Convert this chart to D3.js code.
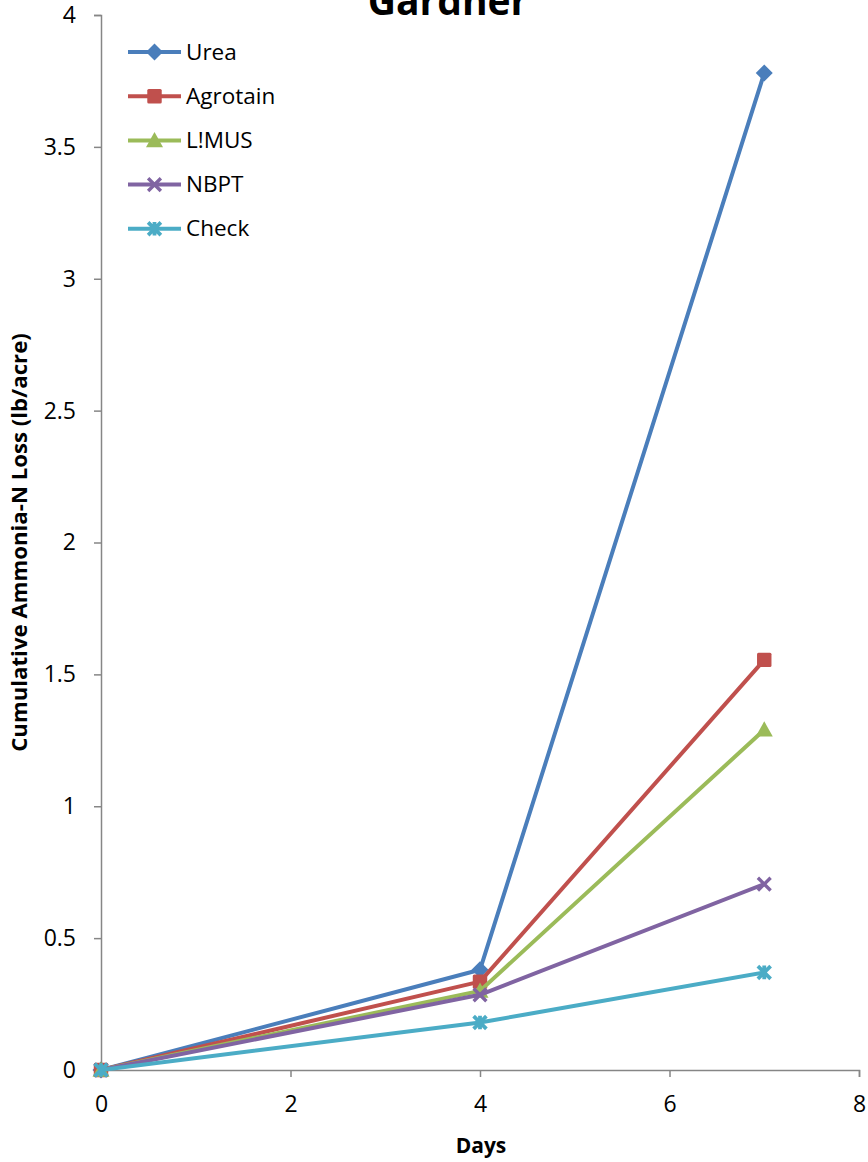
<!DOCTYPE html>
<html>
<head>
<meta charset="utf-8">
<script src="https://cdnjs.cloudflare.com/ajax/libs/d3/7.8.5/d3.min.js"></script>
<style>
  body { margin: 0; background: #fff; }
  svg { display: block; font-family: "Open Sans", sans-serif; }
</style>
</head>
<body>
<div id="chart"></div>
<script>
// data
var days = [0, 4, 7];
var seriesNames = ["Urea", "Agrotain", "L!MUS", "NBPT", "Check"];
var urea = [0, 0.38, 3.78];
var agrotain = [0, 0.335, 1.555];
var limus = [0, 0.30, 1.29];
var nbpt = [0, 0.285, 0.705];
var check = [0, 0.18, 0.37];
var xTicks = [0, 2, 4, 6, 8];
var yTicks = [0, 0.5, 1, 1.5, 2, 2.5, 3, 3.5, 4];

var colors = ["#4a7ebb", "#c0504d", "#9bbb59", "#8064a2", "#4bacc6"];
var shapes = ["diamond", "square", "triangle", "x", "star"];
var allValues = [urea, agrotain, limus, nbpt, check];

var W = 868, H = 1162;
var margin = {top: 15, right: 9, bottom: 92, left: 101};
var width = W - margin.left - margin.right,
    height = H - margin.top - margin.bottom;

var svg = d3.select("#chart").append("svg")
    .attr("width", W)
    .attr("height", H);

var g = svg.append("g")
    .attr("transform", "translate(" + margin.left + "," + margin.top + ")");

var xScale = d3.scaleLinear().domain([0, 8]).range([0, width]);
var yScale = d3.scaleLinear().domain([0, 4]).range([height, 0]);

// axes
var xAxis = g.append("g")
    .attr("transform", "translate(0," + height + ")")
    .call(d3.axisBottom(xScale).tickValues(xTicks).tickSize(7).tickPadding(19).tickFormat(d3.format("d")));
var yAxis = g.append("g")
    .call(d3.axisLeft(yScale).tickValues(yTicks).tickSize(7).tickPadding(18).tickFormat(function(d){ return d; }));

[xAxis, yAxis].forEach(function(a){
    a.select(".domain").attr("stroke", "#868686").attr("stroke-width", 1.5);
    a.selectAll(".tick line").attr("stroke", "#868686").attr("stroke-width", 1.5);
    a.selectAll(".tick text").attr("font-size", 23).attr("fill", "#000")
        .style("font-family", "'Open Sans', sans-serif");
});

// markers
function drawMarker(sel, shape, color, s) {
    if (shape === "diamond") {
        sel.append("path").attr("d", "M0," + (-s) + "L" + s + ",0L0," + s + "L" + (-s) + ",0Z")
            .attr("fill", color);
    } else if (shape === "square") {
        sel.append("rect").attr("x", -s * 0.85).attr("y", -s * 0.85)
            .attr("width", s * 1.7).attr("height", s * 1.7).attr("rx", 1.5)
            .attr("fill", color);
    } else if (shape === "triangle") {
        sel.append("path").attr("d", "M0," + (-s) + "L" + s + "," + (s * 0.8) + "L" + (-s) + "," + (s * 0.8) + "Z")
            .attr("fill", color);
    } else if (shape === "x") {
        var k = s * 0.75;
        sel.append("path").attr("d", "M" + (-k) + "," + (-k) + "L" + k + "," + k + "M" + k + "," + (-k) + "L" + (-k) + "," + k)
            .attr("stroke", color).attr("stroke-width", 3.4).attr("fill", "none");
    } else if (shape === "star") {
        var k2 = s * 0.75;
        sel.append("path").attr("d", "M" + (-k2) + "," + (-k2) + "L" + k2 + "," + k2 + "M" + k2 + "," + (-k2) + "L" + (-k2) + "," + k2 +
                "M0," + (-s * 0.8) + "L0," + (s * 0.8))
            .attr("stroke", color).attr("stroke-width", 3.8).attr("fill", "none");
    }
}

var valueLine = d3.line()
    .x(function(d) { return xScale(d.x); })
    .y(function(d) { return yScale(d.y); });

allValues.forEach(function(vals, i) {
    var dataset = days.map(function(d, j) { return {x: d, y: vals[j]}; });
    g.append("path")
        .datum(dataset)
        .attr("d", valueLine)
        .attr("fill", "none")
        .attr("stroke", colors[i])
        .attr("stroke-width", 4)
        .attr("stroke-linejoin", "round");
    dataset.forEach(function(p) {
        var m = g.append("g").attr("transform", "translate(" + xScale(p.x) + "," + yScale(p.y) + ")");
        drawMarker(m, shapes[i], colors[i], 8.5);
    });
});

// legend
var legend = svg.append("g").attr("transform", "translate(128,52)");
seriesNames.forEach(function(name, i) {
    var row = legend.append("g").attr("transform", "translate(0," + (i * 44.2) + ")");
    row.append("line").attr("x1", 0).attr("x2", 53).attr("y1", 0).attr("y2", 0)
        .attr("stroke", colors[i]).attr("stroke-width", 4);
    var m = row.append("g").attr("transform", "translate(26.5,0)");
    drawMarker(m, shapes[i], colors[i], 8.5);
    row.append("text").attr("x", 58).attr("y", 7.5).attr("font-size", 22.5).text(name);
});

// titles
svg.append("text")
    .attr("x", 448).attr("y", 15)
    .attr("text-anchor", "middle")
    .attr("font-size", 39).attr("font-weight", "bold")
    .text("Gardner");

svg.append("text")
    .attr("x", 481).attr("y", 1153)
    .attr("text-anchor", "middle")
    .attr("font-size", 21).attr("font-weight", "bold")
    .text("Days");

svg.append("text")
    .attr("transform", "translate(27," + (margin.top + height / 2) + ") rotate(-90)")
    .attr("text-anchor", "middle")
    .attr("font-size", 22.2).attr("font-weight", "bold")
    .text("Cumulative Ammonia-N Loss (lb/acre)");
</script>
</body>
</html>
